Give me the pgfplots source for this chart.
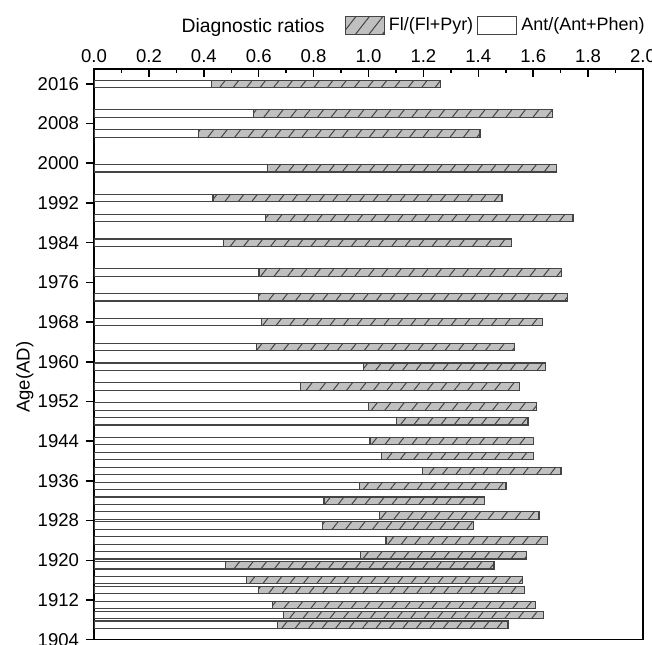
\documentclass[border=0pt]{standalone}
\usepackage{pgfplots}
\pgfplotsset{compat=1.18}
\usepackage{pgfplotstable}
\usepackage{fontspec}
\setmainfont{Liberation Sans}
\usetikzlibrary{patterns.meta}
\definecolor{barfill}{HTML}{C0C0C0}
\definecolor{bardraw}{HTML}{444444}
\pgfplotsset{boxlegend/.style={legend image code/.code={\draw[##1] (0bp,-4.5bp) rectangle (19.5bp,4.5bp);}}}
\pgfplotstableread{
year ant fl
2016 0.429 0.833
2010 0.581 1.089
2006 0.381 1.025
1999 0.632 1.052
1993 0.433 1.053
1989 0.625 1.120
1984 0.473 1.047
1978 0.601 1.103
1973 0.599 1.127
1968 0.610 1.025
1963 0.592 0.940
1959 0.983 0.663
1955 0.753 0.796
1951 1.001 0.612
1948 1.102 0.479
1944 1.005 0.595
1941 1.046 0.554
1938 1.196 0.505
1935 0.968 0.533
1932 0.838 0.585
1929 1.041 0.580
1927 0.832 0.551
1924 1.064 0.588
1921 0.972 0.604
1919 0.478 0.979
1916 0.554 1.007
1914 0.599 0.968
1911 0.650 0.958
1909 0.691 0.947
1907 0.668 0.840
}\datatable
\begin{document}
\fontsize{9.3}{11}\selectfont
\begin{tikzpicture}
\begin{axis}[
  name=ax, scale only axis, width=274.3bp, height=285.2bp,
  xbar stacked, bar width=1.5,
  xmin=0, xmax=2, ymin=1904, ymax=2019,
  xtick={0,0.2,0.4,0.6,0.8,1.0,1.2,1.4,1.6,1.8,2.0},
  minor x tick num=1,
  xtick pos=upper, xticklabel pos=upper, xtick align=inside,
  ytick={1904,1912,...,2016}, minor y tick num=1,
  ytick pos=left, ytick align=outside,
  x tick label style={/pgf/number format/.cd, fixed, fixed zerofill, precision=1},
  y tick label style={/pgf/number format/1000 sep={}},
  /pgf/number format/assume math mode=true,
  tick label style={font=\fontsize{9.3}{11}\selectfont},
  major tick length=4.25bp, minor tick length=2.25bp,
  tick style={black, line width=0.75bp},
  axis line style={line width=0.75bp},
  yminorgrids, minor y grid style={densely dotted, black!25, line width=0.5bp},
  ylabel={Age(AD)},
  ylabel style={at={(axis description cs:-0.126,0.46)}, anchor=center, rotate=0, font=\fontsize{9.3}{11}\selectfont},
  reverse legend,
  legend columns=-1,
  legend style={at={(axis description cs:0.456,1.0755)}, anchor=west, draw=none, fill=none,
    inner sep=0pt, column sep=0pt, font=\fontsize{9}{11}\selectfont},
]
\addplot[fill=white, draw=bardraw, line width=0.6bp, boxlegend]
  table[x=ant, y=year]{\datatable};
\addlegendentry{Ant/(Ant+Phen)}
\addplot[fill=barfill, draw=bardraw, line width=0.6bp,
  postaction={pattern={Lines[angle=52,distance=5.3bp,line width=0.5bp]}, pattern color=bardraw},
  boxlegend]
  table[x=fl, y=year]{\datatable};
\addlegendentry{Fl/(Fl+Pyr)}
\end{axis}
\node[anchor=base west, font=\fontsize{9.7}{11}\selectfont] at ([shift={(40.5bp,18.45bp)}]ax.north west) {Diagnostic ratios};
\pgfresetboundingbox
\path[use as bounding box] ([shift={(-47bp,-2.35bp)}]ax.south west) rectangle ([shift={(4.5bp,34.45bp)}]ax.north east);
\end{tikzpicture}
\end{document}
